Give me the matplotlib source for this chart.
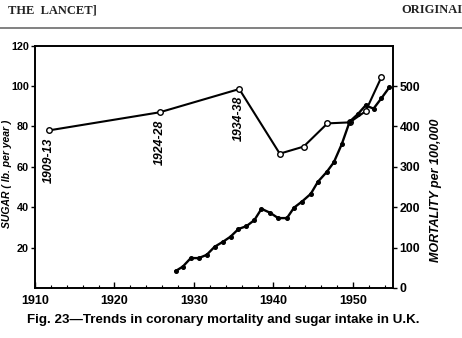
import matplotlib
matplotlib.use("Agg")
import matplotlib.pyplot as plt
from matplotlib.ticker import MultipleLocator
from matplotlib.font_manager import FontProperties

# sugar intake, lb per year (open circles, left axis)
sugar_years = [1911.7, 1925.7, 1935.7, 1940.8, 1943.8, 1946.8, 1949.6, 1951.6, 1953.6]
sugar_vals = [78, 87, 98.5, 66.5, 70, 81.5, 82, 87.5, 104.5]
period_labels = ["1909-13", "1924-28", "1934-38"]

# coronary mortality per 100,000 (small dots, right axis)
mort_years = [1927.7, 1928.6, 1929.6, 1930.6, 1931.6, 1932.6, 1933.7, 1934.6,
              1935.6, 1936.6, 1937.6, 1938.5, 1939.6, 1940.6, 1941.7, 1942.6,
              1943.6, 1944.7, 1945.6, 1946.7, 1947.6, 1948.6, 1949.6, 1950.6,
              1951.6, 1952.6, 1953.6, 1954.6]
mort_vals = [42, 53, 74, 74, 82, 102, 115, 127,
             146, 153, 168, 196, 186, 173, 173, 199,
             214, 233, 263, 287, 311, 356, 412, 430,
             452, 444, 470, 497]

fig = plt.figure(figsize=(4.62, 3.38), dpi=100)
ax = fig.add_axes([0.0758, 0.148, 0.774, 0.717])
ax2 = ax.twinx()

ax.plot(sugar_years, sugar_vals, color="black", lw=1.5, marker="o", ms=4,
        mfc="white", mec="black", mew=1.0, zorder=3)
ax2.plot(mort_years, mort_vals, color="black", lw=1.7, marker="o", ms=2.6,
         mfc="black", mec="black", zorder=2)

for yr, v, lab in zip(sugar_years[:3], sugar_vals[:3], period_labels):
    ax.text(yr, v - 3.5, lab, rotation=90, ha="center", va="top",
            fontsize=8.8, style="italic", fontweight="bold", family="Liberation Sans")

ax.set_xlim(1910, 1955)
ax.set_ylim(0, 120)
ax2.set_ylim(0, 600)

ax.set_xticks([1910, 1920, 1930, 1940, 1950])
ax.xaxis.set_minor_locator(MultipleLocator(2))
ax.set_yticks([20, 40, 60, 80, 100, 120])
ax2.set_yticks([0, 100, 200, 300, 400, 500])

ax.tick_params(axis="x", direction="in", length=4, width=1, pad=5)
ax.tick_params(axis="x", which="minor", direction="in", length=2.5, width=0.8)
ax.tick_params(axis="y", direction="out", length=3, width=1, pad=1.5)
ax2.tick_params(axis="y", direction="out", length=3, width=1, pad=2)
for lbl in ax.get_xticklabels():
    lbl.set_fontproperties(FontProperties(family="Liberation Sans", size=9, weight="bold"))
for lbl in ax.get_yticklabels():
    lbl.set_fontproperties(FontProperties(family="Liberation Sans", size=7.8, weight="bold"))
for lbl in ax2.get_yticklabels():
    lbl.set_fontproperties(FontProperties(family="Liberation Sans", size=8.8, weight="bold"))

for a in (ax, ax2):
    for s in a.spines.values():
        s.set_linewidth(1.2)

ax.set_ylabel("SUGAR ( lb. per year )", fontsize=7.5, style="italic",
              fontweight="bold", family="Liberation Sans")
ax.yaxis.set_label_coords(-0.063, 0.47)
ax2.set_ylabel("MORTALITY per 100,000", fontsize=9, style="italic",
               fontweight="bold", family="Liberation Sans")
ax2.yaxis.set_label_coords(1.104, 0.404)

# page header and caption
fig.text(0.017, 0.970, "THE  LANCET]", fontsize=9, family="Liberation Serif",
         fontweight="bold", va="center", ha="left", color="#222222")
fig.text(1.0, 0.970, "ORIGINAI", fontsize=9, family="Liberation Serif",
         fontweight="bold", va="center", ha="right", color="#222222")
fig.add_artist(plt.Line2D([0, 1], [0.917, 0.917], color="#777777", lw=1.3))
fig.text(0.058, 0.053, "Fig. 23\u2014Trends in coronary mortality and sugar intake in U.K.",
         fontsize=9.6, fontweight="bold", family="Liberation Sans", ha="left", va="center")

fig.savefig("out.png", dpi=100)
